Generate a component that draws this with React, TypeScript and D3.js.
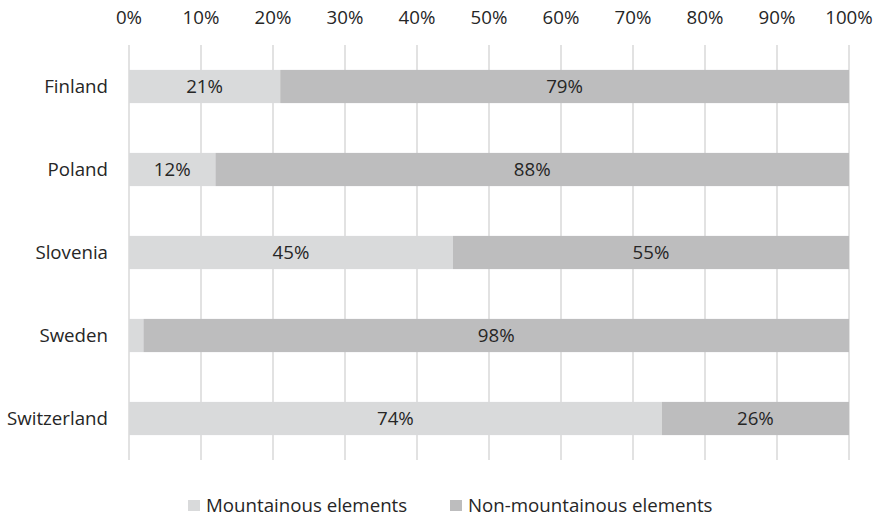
import React from "react";
import * as d3 from "d3";

const countries = ["Finland", "Poland", "Slovenia", "Sweden", "Switzerland"];
const mountainous = [21, 12, 45, 2, 74];
const nonMountainous = [79, 88, 55, 98, 26];
const tickValues = [0, 10, 20, 30, 40, 50, 60, 70, 80, 90, 100];
const seriesNames = ["Mountainous elements", "Non-mountainous elements"];
const seriesColors = ["#d9dadb", "#bdbdbe"];

const W = 878;
const H = 517;
const FONT = "'Open Sans', sans-serif";
const FS = 18.7;

export default function App() {
  const x = d3.scaleLinear().domain([0, 100]).range([129, 849]);
  const y = d3.scaleBand().domain(countries).range([45, 460]).paddingInner(0.6).paddingOuter(0.3);
  const stackData = countries.map((c, i) => ({ c, m: mountainous[i], n: nonMountainous[i] }));
  const stacked = d3.stack<any>().keys(["m", "n"])(stackData);

  return (
    <svg width={W} height={H} style={{ position: "absolute", left: 0, top: 0 }} fontFamily={FONT}>
      {tickValues.map((t) => (
        <g key={t}>
          <line x1={x(t)} x2={x(t)} y1={45} y2={460} stroke="#d9d9d9" strokeWidth={1.5} />
          <text x={x(t)} y={24} textAnchor="middle" fontSize={FS} fill="#262626">{t}%</text>
        </g>
      ))}
      {stacked.map((s, si) => (
        <g key={si}>
          {s.map((d: any, i: number) => {
            const x0 = x(d[0]);
            const x1 = x(d[1]);
            const v = d[1] - d[0];
            const yy = y(countries[i])!;
            return (
              <g key={i}>
                <rect x={x0} y={yy} width={x1 - x0} height={y.bandwidth()} fill={seriesColors[si]} />
                {v >= 5 && (
                  <text x={(x0 + x1) / 2} y={yy + y.bandwidth() / 2 + 6.5} textAnchor="middle" fontSize={FS} fill="#262626">
                    {v}%
                  </text>
                )}
              </g>
            );
          })}
        </g>
      ))}
      {countries.map((c) => (
        <text key={c} x={108} y={y(c)! + y.bandwidth() / 2 + 6.5} textAnchor="end" fontSize={FS} fill="#262626">{c}</text>
      ))}
      <g>
        <rect x={188} y={500} width={12} height={11} fill={seriesColors[0]} />
        <text x={206} y={512} fontSize={FS} fill="#262626">{seriesNames[0]}</text>
        <rect x={450} y={500} width={12} height={11} fill={seriesColors[1]} />
        <text x={468} y={512} fontSize={FS} fill="#262626">{seriesNames[1]}</text>
      </g>
    </svg>
  );
}
